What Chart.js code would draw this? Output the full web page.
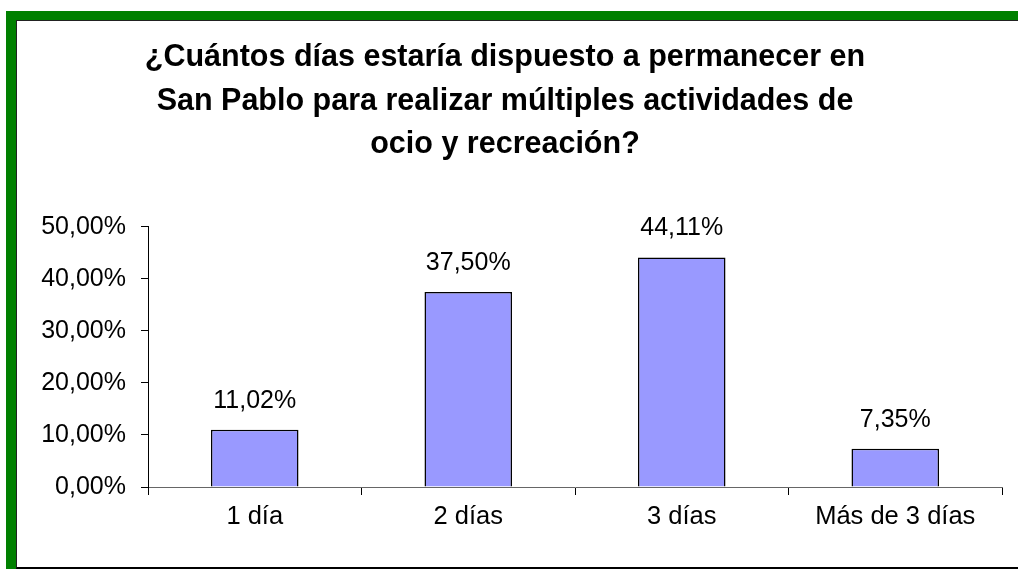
<!DOCTYPE html>
<html lang="es">
<head>
<meta charset="utf-8">
<title>Días de permanencia en San Pablo</title>
<script src="https://cdn.jsdelivr.net/npm/chart.js@4.4.1/dist/chart.umd.min.js"></script>
<style>
    html, body { margin: 0; padding: 0; background: #fff; overflow: hidden; }
    body { width: 1018px; height: 569px; position: relative; }
    /* marco verde con línea oscura interior */
    .marco {
        position: absolute; left: 6px; top: 11px; width: 1030px; height: 600px;
        border-left: 10px solid #008000; border-top: 10px solid #008000;
    }
    .interior {
        position: absolute; left: 16px; top: 20px; width: 1010px; height: 546px;
        border-left: 1px solid #222; border-top: 1px solid #222; border-bottom: 2px solid #000;
    }
    #grafica { position: absolute; left: 8px; top: 21px; }
</style>
</head>
<body>
<div class="marco"></div>
<div class="interior"></div>
<canvas id="grafica" width="1010" height="546"></canvas>

<script>
// Datos de la encuesta
const categorias = ['1 día', '2 días', '3 días', 'Más de 3 días'];
const porcentajes = [11.02, 37.50, 44.11, 7.35];
const marcasEje = [0, 10, 20, 30, 40, 50];

const tituloLineas = [
    '¿Cuántos días estaría dispuesto a permanecer en',
    'San Pablo para realizar múltiples actividades de',
    'ocio y recreación?'
];

const fuente = "'Liberation Sans', Arial, sans-serif";

// Formato con coma decimal: 11,02%
function formatoPct(v) {
    return v.toFixed(2).replace('.', ',') + '%';
}

// Etiquetas de valor encima de cada barra
const etiquetasBarras = {
    id: 'etiquetasBarras',
    afterDatasetsDraw(chart) {
        const ctx = chart.ctx;
        const meta = chart.getDatasetMeta(0);
        ctx.save();
        ctx.font = '25px ' + fuente;
        ctx.fillStyle = '#000';
        ctx.textAlign = 'center';
        ctx.textBaseline = 'alphabetic';
        meta.data.forEach(function(barra, i) {
            ctx.fillText(formatoPct(porcentajes[i]), barra.x, barra.y - 22);
        });
        ctx.restore();
    }
};

document.addEventListener('DOMContentLoaded', function() {
    const ctx = document.getElementById('grafica').getContext('2d');
    new Chart(ctx, {
        type: 'bar',
        data: {
            labels: categorias,
            datasets: [{
                data: porcentajes,
                backgroundColor: '#9999FF',
                borderColor: '#000',
                borderWidth: 1.5,
                categoryPercentage: 1,
                barPercentage: 0.41
            }]
        },
        options: {
            responsive: false,
            animation: false,
            devicePixelRatio: 1,
            layout: { padding: { left: 0, right: 16, top: 0, bottom: 0 } },
            plugins: {
                legend: { display: false },
                tooltip: { enabled: false },
                title: {
                    display: true,
                    text: tituloLineas,
                    color: '#000',
                    font: { family: fuente, size: 30.5, weight: 'bold', lineHeight: 1.43 },
                    padding: { top: 15, bottom: 60 }
                }
            },
            scales: {
                x: {
                    grid: { drawOnChartArea: false, drawTicks: true, tickLength: 8, tickColor: '#000', offset: true },
                    border: { display: true, color: '#666', width: 1 },
                    ticks: { color: '#000', padding: 7, font: { family: fuente, size: 25.5 } },
                    afterFit(scale) { scale.height = 80; }
                },
                y: {
                    min: marcasEje[0],
                    max: marcasEje[marcasEje.length - 1],
                    afterBuildTicks(scale) {
                        scale.ticks = marcasEje.map(v => ({ value: v }));
                    },
                    grid: { drawOnChartArea: false, drawTicks: true, tickLength: 7, tickColor: '#000' },
                    border: { display: true, color: '#000', width: 1 },
                    ticks: {
                        color: '#000',
                        padding: 15,
                        font: { family: fuente, size: 25 },
                        callback: v => formatoPct(v)
                    },
                    afterFit(scale) { scale.width = 140; }
                }
            }
        },
        plugins: [etiquetasBarras]
    });
});
</script>
</body>
</html>
